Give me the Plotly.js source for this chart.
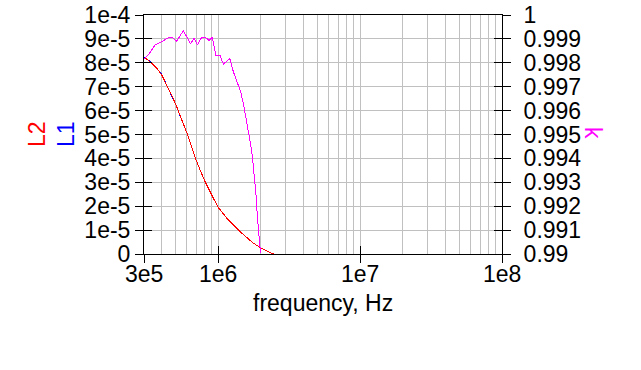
<!DOCTYPE html>
<html>
<head>
<meta charset="utf-8">
<script src="https://cdn.plot.ly/plotly-3.0.1.min.js"></script>
<style>
html,body{margin:0;padding:0;background:#fff;}
#chart{width:641px;height:370px;}
#chart .scatterlayer path.js-line{shape-rendering:crispEdges;}
</style>
</head>
<body>
<div id="chart"></div>
<script>
// ---- data ----
var freqL = [3.0e5, 3.13e5, 3.4e5, 3.69e5, 4.0e5, 4.34e5, 4.7e5, 5.1e5, 5.53e5, 6.16e5, 6.98e5, 8.07e5, 9.0e5, 1.0e6, 1.18e6, 1.43e6, 1.77e6, 2.08e6, 2.45e6, 1.0e7, 6.8e7, 1.0e8];
var L1 = [8.23e-5, 8.18e-5, 7.99e-5, 7.78e-5, 7.51e-5, 7.08e-5, 6.65e-5, 6.16e-5, 5.61e-5, 4.91e-5, 3.93e-5, 3.03e-5, 2.47e-5, 1.95e-5, 1.42e-5, 9.3e-6, 4.5e-6, 2.0e-6, 0, null, 0, 0];
var L2 = [8.19e-5, 8.16e-5, 7.98e-5, 7.77e-5, 7.49e-5, 7.07e-5, 6.65e-5, 6.16e-5, 5.61e-5, 4.91e-5, 3.93e-5, 3.03e-5, 2.47e-5, 1.95e-5, 1.42e-5, 9.3e-6, 4.5e-6, 2.0e-6, 0, null, 0, 0];
var freqK = [3.0e5, 3.22e5, 3.59e5, 4.0e5, 4.45e5, 4.75e5, 5.1e5, 5.38e5, 5.68e5, 6.0e5, 6.4e5, 6.75e5, 7.13e5, 7.65e5, 8.3e5, 8.61e5, 9.09e5, 9.65e5, 1.03e6, 1.087e6, 1.135e6, 1.21e6, 1.278e6, 1.364e6, 1.44e6, 1.503e6, 1.57e6, 1.63e6, 1.72e6, 1.77e6, 1.82e6, 1.86e6, 1.887e6, 1.92e6, 1.95e6, 1.99e6];
var K = [0.99815, 0.99833, 0.99875, 0.99888, 0.99905, 0.99905, 0.99891, 0.99912, 0.99934, 0.99909, 0.99879, 0.99903, 0.99875, 0.99907, 0.99903, 0.99893, 0.99907, 0.99830, 0.99830, 0.99795, 0.99805, 0.99818, 0.99763, 0.99714, 0.99679, 0.99631, 0.99564, 0.99505, 0.99435, 0.99365, 0.99296, 0.99226, 0.99156, 0.99100, 0.99031, 0.99003];

var xTickVals = [3e5, 1e6, 1e7, 1e8];
var xTickText = ['3e5', '1e6', '1e7', '1e8'];
var xMinorVals = [4e5,5e5,6e5,7e5,8e5,9e5,2e6,3e6,4e6,5e6,6e6,7e6,8e6,9e6,2e7,3e7,4e7,5e7,6e7,7e7,8e7,9e7];
var yLeftVals = [0,1e-5,2e-5,3e-5,4e-5,5e-5,6e-5,7e-5,8e-5,9e-5,1e-4];
var yLeftText = ['0','1e-5','2e-5','3e-5','4e-5','5e-5','6e-5','7e-5','8e-5','9e-5','1e-4'];
var yRightVals = [0.99,0.991,0.992,0.993,0.994,0.995,0.996,0.997,0.998,0.999,1];
var yRightText = ['0.99','0.991','0.992','0.993','0.994','0.995','0.996','0.997','0.998','0.999','1'];

// ---- chart ----
var FONT = 'Liberation Sans, Arial, Helvetica, sans-serif';
var GRID = '#c0c0c0';
var xr = [Math.log10(3e5), 8];

var traces = [
  {x: freqL, y: L1, mode: 'lines', line: {color: '#0000ff', width: 1}, xaxis: 'x', yaxis: 'y', cliponaxis: false, hoverinfo: 'skip'},
  {x: freqL, y: L2, mode: 'lines', line: {color: '#ff0000', width: 1}, xaxis: 'x', yaxis: 'y', cliponaxis: false, hoverinfo: 'skip'},
  {x: freqK, y: K, mode: 'lines', line: {color: '#ff00ff', width: 1}, xaxis: 'x', yaxis: 'y2', cliponaxis: false, hoverinfo: 'skip'},
  {x: [], y: [], mode: 'lines', xaxis: 'x2', yaxis: 'y'},
  {x: [], y: [], mode: 'lines', xaxis: 'x', yaxis: 'y3'},
  {x: [], y: [], mode: 'lines', xaxis: 'x', yaxis: 'y4'}
];

var tickFont = {family: FONT, size: 23, color: '#000'};

// x tick labels placed as annotations at the tick values
var xLabelAnn = xTickVals.map(function (v, i) {
  return {text: xTickText[i], xref: 'x', yref: 'paper', x: Math.log10(v), y: (254 - 274) / 239,
          xanchor: 'center', yanchor: 'middle', showarrow: false, font: tickFont};
});

var layout = {
  width: 641, height: 370,
  margin: {l: 144, r: 139, t: 15, b: 116, pad: 0},
  paper_bgcolor: '#fff', plot_bgcolor: '#fff',
  showlegend: false,
  font: {family: FONT, size: 23, color: '#000'},
  xaxis: {
    type: 'log', range: xr, autorange: false,
    tickmode: 'array', tickvals: xTickVals, ticktext: xTickText, showticklabels: false,
    ticks: 'outside', ticklen: 8, tickwidth: 1, tickcolor: '#000',
    showline: true, linecolor: '#000', linewidth: 1, mirror: true,
    showgrid: true, gridcolor: GRID, gridwidth: 1, zeroline: false,
    minor: {tickmode: 'array', tickvals: xMinorVals, showgrid: true, gridcolor: GRID, gridwidth: 1, ticks: ''},
    tickfont: tickFont, layer: 'below traces'
  },
  xaxis2: {
    type: 'log', range: xr, autorange: false, overlaying: 'x', anchor: 'y', side: 'bottom',
    tickmode: 'array', tickvals: xTickVals, ticks: 'inside', ticklen: 8, tickwidth: 1, tickcolor: '#000',
    showticklabels: false, showgrid: false, showline: false, zeroline: false
  },
  yaxis: {
    range: [0, 1e-4], autorange: false,
    tickmode: 'array', tickvals: yLeftVals, ticktext: yLeftText,
    ticks: 'outside', ticklen: 8, tickwidth: 1, tickcolor: '#000',
    showline: true, linecolor: '#000', linewidth: 1,
    showgrid: true, gridcolor: GRID, gridwidth: 1, zeroline: false,
    tickfont: tickFont, layer: 'below traces'
  },
  yaxis3: {
    range: [0, 1e-4], autorange: false, overlaying: 'y', anchor: 'x', side: 'left',
    tickmode: 'array', tickvals: yLeftVals, ticks: 'inside', ticklen: 8, tickwidth: 1, tickcolor: '#000',
    showticklabels: false, showgrid: false, showline: false, zeroline: false
  },
  yaxis2: {
    range: [0.99, 1], autorange: false, overlaying: 'y', anchor: 'x', side: 'right',
    tickmode: 'array', tickvals: yRightVals, ticktext: yRightText,
    ticks: 'outside', ticklen: 8, tickwidth: 1, tickcolor: '#000',
    showline: true, linecolor: '#000', linewidth: 1,
    showgrid: false, zeroline: false, tickfont: tickFont, ticklabelstandoff: 8, layer: 'below traces'
  },
  yaxis4: {
    range: [0.99, 1], autorange: false, overlaying: 'y', anchor: 'x', side: 'right',
    tickmode: 'array', tickvals: yRightVals, ticks: 'inside', ticklen: 8, tickwidth: 1, tickcolor: '#000',
    showticklabels: false, showgrid: false, showline: false, zeroline: false
  },
  annotations: xLabelAnn.concat([
    {text: 'frequency, Hz', xref: 'paper', yref: 'paper', x: 0.5, y: (254 - 303) / 239, xanchor: 'center', yanchor: 'middle', showarrow: false, font: {family: FONT, size: 23, color: '#000'}},
    {text: 'L2', xref: 'paper', yref: 'paper', x: (37 - 144) / 358, y: (254 - 134) / 239, xanchor: 'center', yanchor: 'middle', textangle: -90, showarrow: false, font: {family: FONT, size: 23, color: '#ff0000'}},
    {text: 'L1', xref: 'paper', yref: 'paper', x: (66 - 144) / 358, y: (254 - 134) / 239, xanchor: 'center', yanchor: 'middle', textangle: -90, showarrow: false, font: {family: FONT, size: 23, color: '#0000ff'}},
    {text: 'k', xref: 'paper', yref: 'paper', x: (593 - 144) / 358, y: (254 - 133) / 239, xanchor: 'center', yanchor: 'middle', textangle: 90, showarrow: false, font: {family: FONT, size: 23, color: '#ff00ff'}}
  ])
};

Plotly.newPlot('chart', traces, layout, {displayModeBar: false, staticPlot: true});
</script>
</body>
</html>
